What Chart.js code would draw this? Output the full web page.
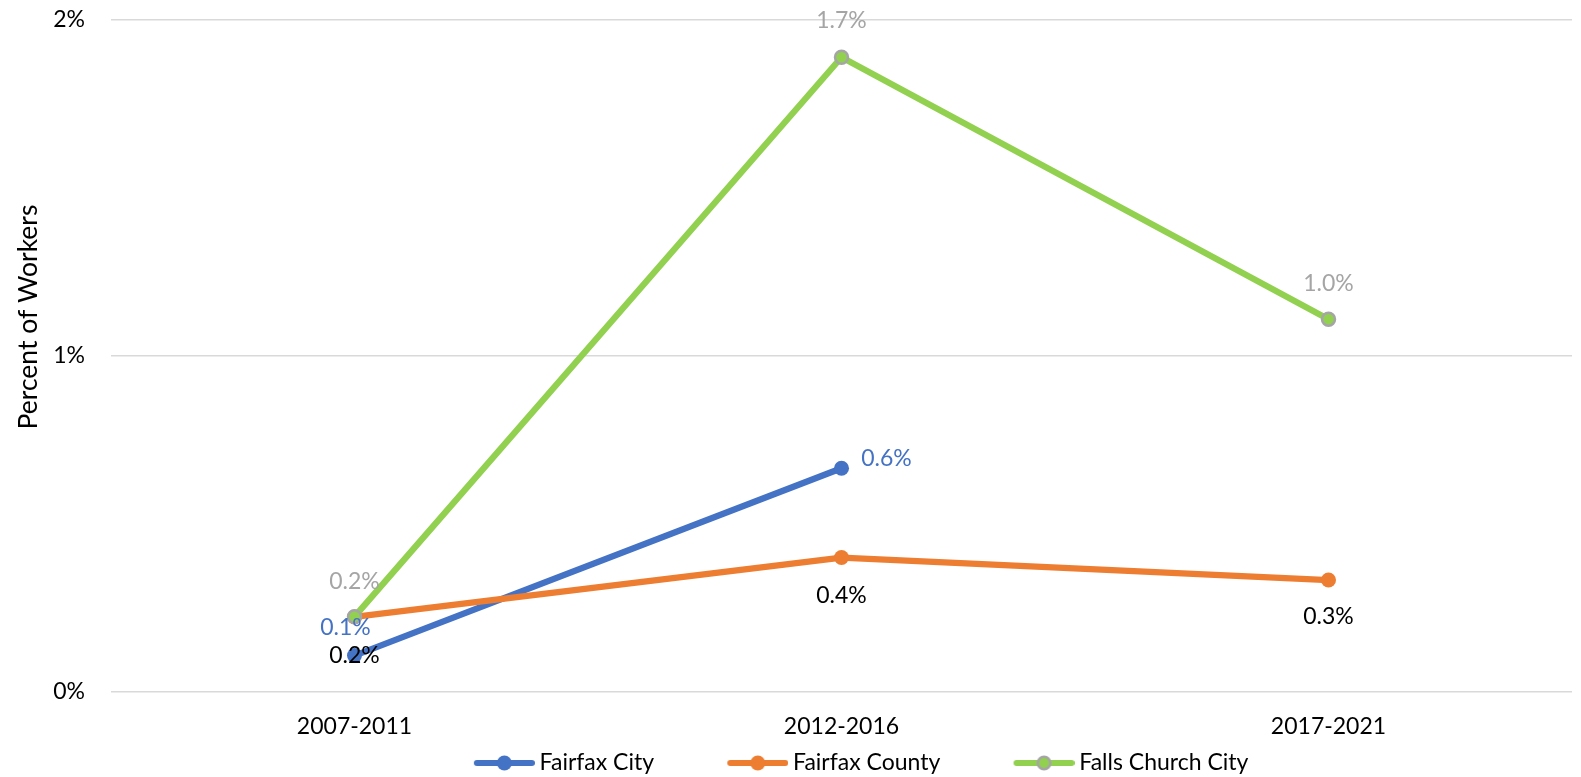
<!DOCTYPE html>
<html><head><meta charset="utf-8">
<script src="https://cdn.jsdelivr.net/npm/chart.js@4.4.0/dist/chart.umd.min.js"></script>
<style>html,body{margin:0;padding:0;background:#fff}#wrap{width:1581px;height:777px}</style>
</head><body><div id="wrap"><canvas id="c" width="1581" height="777"></canvas></div>
<script>
// ---- data ----
const categories = ['2007-2011', '2012-2016', '2017-2021'];
const seriesNames = ['Fairfax City', 'Fairfax County', 'Falls Church City'];
const fairfaxCity = [0.107, 0.665, null];
const fairfaxCounty = [0.222, 0.399, 0.332];
const fallsChurchCity = [0.223, 1.889, 1.109];
const fairfaxCityLabels = ['0.1%', '0.6%', ''];
const fairfaxCountyLabels = ['0.2%', '0.4%', '0.3%'];
const fallsChurchCityLabels = ['0.2%', '1.7%', '1.0%'];
const yTickLabels = ['0%', '1%', '2%'];
const yAxisTitle = 'Percent of Workers';

// ---- style ----
const FONT = 'Lato, "Open Sans", sans-serif';
const FS = 23;
const colors = ['#4472C4', '#ED7D31', '#92D050'];
const labelColors = ['#4472C4', '#000000', '#A5A5A5'];
const valueLabels = [fairfaxCityLabels, fairfaxCountyLabels, fallsChurchCityLabels];
const labelOffsets = [
  [[-9, -28], [45, -10], [0, 0]],
  [[0, 39], [0, 38], [0, 37]],
  [[0, -35], [0, -37], [0, -36]]
];

function makeIcon(color, border) {
  const c = document.createElement('canvas');
  c.width = 131; c.height = 20;
  const g = c.getContext('2d');
  const x1 = 131 - 61 + 3, x2 = 131 - 3, cy = 10, cx = 131 - 30.5;
  g.strokeStyle = color; g.lineWidth = 6; g.lineCap = 'round';
  g.beginPath(); g.moveTo(x1, cy); g.lineTo(x2, cy); g.stroke();
  g.beginPath(); g.arc(cx, cy, border ? 6.3 : 7.5, 0, Math.PI * 2);
  g.fillStyle = color; g.fill();
  if (border) { g.lineWidth = 2.5; g.strokeStyle = border; g.stroke(); }
  return c;
}
const legendIcons = [makeIcon(colors[0]), makeIcon(colors[1]), makeIcon(colors[2], '#A5A5A5')];

const valueLabelPlugin = {
  id: 'valueLabels',
  afterDatasetsDraw(chart) {
    const ctx = chart.ctx;
    ctx.save();
    ctx.font = FS + 'px ' + FONT;
    ctx.textAlign = 'center';
    ctx.textBaseline = 'middle';
    chart.data.datasets.forEach((ds, i) => {
      const meta = chart.getDatasetMeta(i);
      meta.data.forEach((pt, j) => {
        if (ds.data[j] == null || !valueLabels[i][j]) return;
        ctx.fillStyle = labelColors[i];
        ctx.fillText(valueLabels[i][j], pt.x + labelOffsets[i][j][0], pt.y + labelOffsets[i][j][1]);
      });
    });
    ctx.restore();
  }
};

const axisTitlePlugin = {
  id: 'axisTitle',
  afterDraw(chart) {
    const ctx = chart.ctx;
    ctx.save();
    ctx.translate(28, 317);
    ctx.rotate(-Math.PI / 2);
    ctx.font = '26.5px ' + FONT;
    ctx.fillStyle = '#000';
    ctx.textAlign = 'center';
    ctx.textBaseline = 'middle';
    ctx.fillText(yAxisTitle, 0, 0);
    ctx.restore();
  }
};

const legendShiftPlugin = {
  id: 'legendShift',
  afterLayout(chart) {
    const l = chart.legend;
    if (!l) return;
    l.left += 43; l.right += 43;
    l.top += 7.5; l.bottom += 7.5;
  }
};

const seriesData = [fairfaxCity, fairfaxCounty, fallsChurchCity];
const datasets = seriesNames.map((name, i) => ({
  label: name,
  data: seriesData[i],
  borderColor: colors[i],
  backgroundColor: colors[i],
  borderWidth: 6.3,
  borderCapStyle: 'round',
  borderJoinStyle: 'round',
  pointRadius: i === 2 ? 6.5 : 7.5,
  pointHoverRadius: i === 2 ? 6.5 : 7.5,
  pointBackgroundColor: colors[i],
  pointBorderColor: i === 2 ? '#A5A5A5' : colors[i],
  pointBorderWidth: i === 2 ? 2.5 : 0,
  tension: 0,
  spanGaps: false,
  order: 3 - i
}));

new Chart(document.getElementById('c'), {
  type: 'line',
  data: { labels: categories, datasets },
  plugins: [valueLabelPlugin, axisTitlePlugin, legendShiftPlugin],
  options: {
    responsive: false,
    animation: false,
    devicePixelRatio: 1,
    layout: { padding: { top: 20, right: 8, bottom: 0, left: 0 } },
    plugins: {
      tooltip: { enabled: false },
      legend: {
        position: 'bottom',
        labels: {
          usePointStyle: true,
          pointStyleWidth: 117.5,
          boxHeight: FS,
          padding: 10,
          color: '#000',
          font: { family: FONT, size: FS },
          sort: (a, b) => a.datasetIndex - b.datasetIndex,
          generateLabels(chart) {
            const items = Chart.defaults.plugins.legend.labels.generateLabels(chart);
            items.forEach(it => { it.pointStyle = legendIcons[it.datasetIndex]; });
            return items;
          }
        }
      }
    },
    scales: {
      x: {
        offset: true,
        grid: { display: false, drawTicks: false },
        border: { display: false },
        ticks: { padding: 21, color: '#000', font: { family: FONT, size: FS }, maxRotation: 0 },
        afterFit(s) { s.height = 42.5; }
      },
      y: {
        min: 0, max: 2,
        grid: { color: '#D9D9D9', lineWidth: 1.5, drawTicks: false },
        border: { display: false },
        ticks: {
          stepSize: 1, padding: 26, color: '#000',
          font: { family: FONT, size: FS },
          callback: (v) => yTickLabels[Math.round(v)]
        },
        afterFit(s) { s.width = 111; s.paddingTop = 0; s.paddingBottom = 0; }
      }
    }
  }
});
</script></body></html>
